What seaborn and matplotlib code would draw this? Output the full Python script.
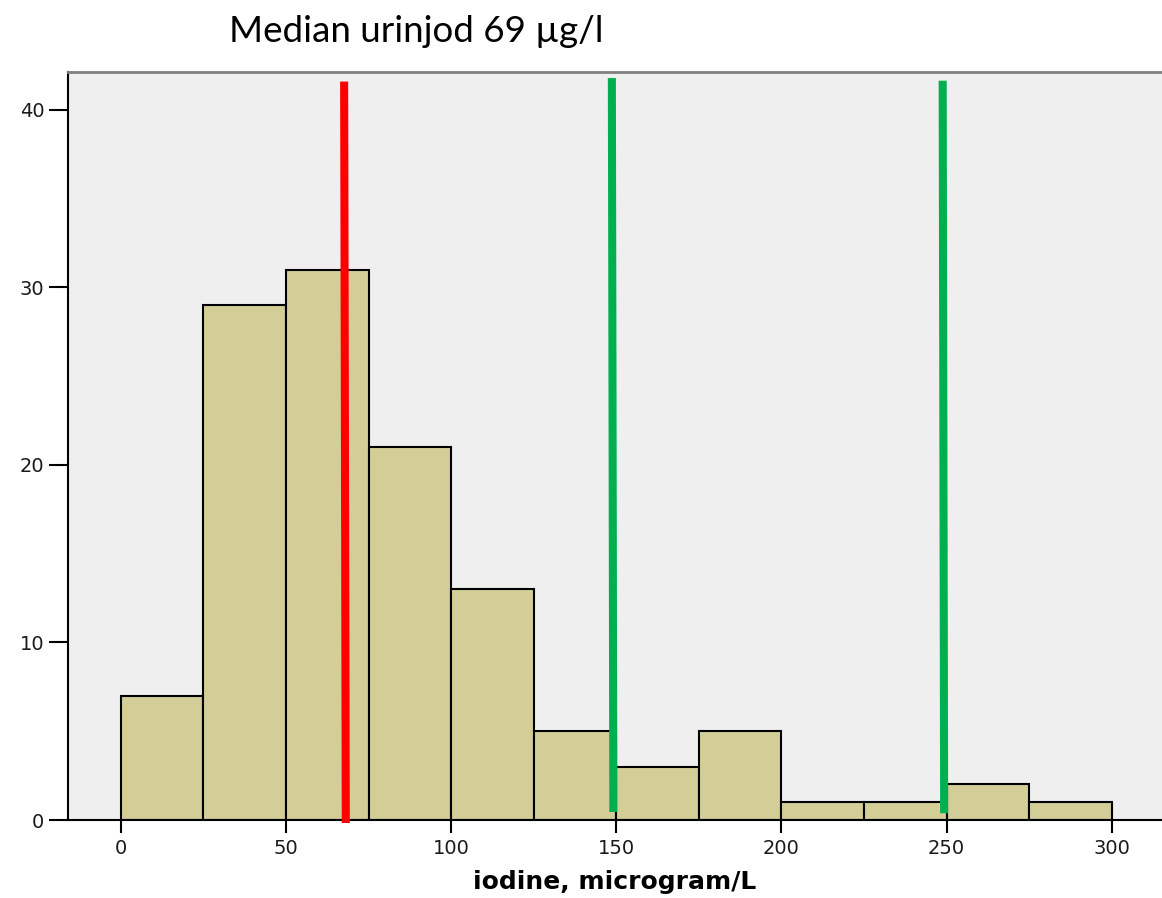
import numpy as np
import pandas as pd
import matplotlib
matplotlib.use("Agg")
import matplotlib.pyplot as plt
import seaborn as sns

# ---- data ----
bin_edges = [0, 25, 50, 75, 100, 125, 150, 175, 200, 225, 250, 275, 300]
counts = [7, 29, 31, 21, 13, 5, 3, 5, 1, 1, 2, 1]
x_ticks = [0, 50, 100, 150, 200, 250, 300]
y_ticks = [0, 10, 20, 30, 40]
title_text = "Median urinjod 69 µg/l"
x_label = "iodine, microgram/L"
# hand-drawn reference lines: (x_top, x_bottom, y_top, y_bottom)
median_line = (67.6, 68.1, 41.6, -0.17)
ref_line_150 = (148.65, 149.1, 41.8, 0.45)
ref_line_250 = (248.8, 249.25, 41.65, 0.38)

df = pd.DataFrame({
    "center": [(a + b) / 2 for a, b in zip(bin_edges[:-1], bin_edges[1:])],
    "count": counts,
})

sns.set_theme(style="white")
plt.rcParams["font.family"] = ["DejaVu Sans"]

fig = plt.figure(figsize=(11.62, 8.98), dpi=100)
ax = fig.add_axes([68 / 1162, 1 - 820 / 898, 1 - 68 / 1162, (820 - 72) / 898])
ax.set_facecolor("#EFEFEF")

sns.histplot(data=df, x="center", weights="count", bins=bin_edges,
             color="#D3CE98", alpha=1.0, edgecolor="black", linewidth=1.5, ax=ax)

ax.set_xlim(-16, 315.2)
ax.set_ylim(0, 42.14)

for (xt, xb, yt, yb), col in [(median_line, "#FF0000"),
                                (ref_line_150, "#00B050"),
                                (ref_line_250, "#00B050")]:
    ax.plot([xt, xb], [yt, yb], color=col, lw=5.8, solid_capstyle="butt",
            clip_on=False, zorder=5)

ax.set_xticks(x_ticks)
ax.set_yticks(y_ticks)
ax.tick_params(axis="x", direction="out", length=9, width=1.5, color="black",
               pad=5, labelsize=14, labelcolor="#1a1a1a", bottom=True)
ax.tick_params(axis="y", direction="out", length=14, width=1.5, color="black",
               pad=3, labelsize=14, labelcolor="#1a1a1a", left=True)

ax.set_xlabel(x_label, fontsize=18, fontweight="bold", color="black", va="center")
ax.xaxis.set_label_coords(0.5, (820 - 882) / 748)
ax.set_ylabel("")

for side in ["left", "bottom"]:
    ax.spines[side].set_color("black")
    ax.spines[side].set_linewidth(1.5)
ax.spines["top"].set_color("#808080")
ax.spines["top"].set_linewidth(2)
ax.spines["right"].set_visible(False)

fig.text(416 / 1162, 1 - 32 / 898, title_text, ha="center", va="center",
         fontsize=26.5, family=["Lato", "DejaVu Sans"], color="black")

fig.savefig("out.png", dpi=100, facecolor="white")
